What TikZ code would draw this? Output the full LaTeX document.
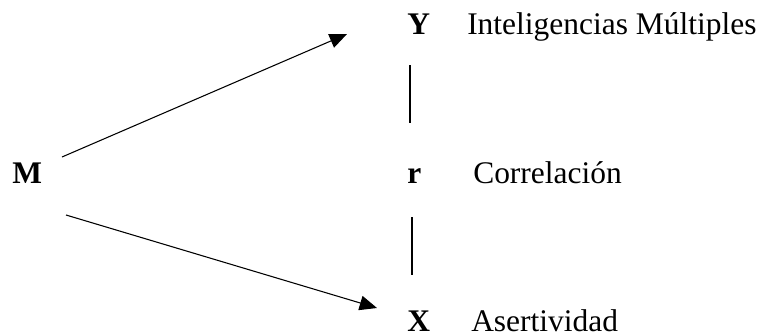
\documentclass[tikz,border=0pt]{standalone}
\usepackage{fontspec}
\setmainfont{Liberation Serif}
\usetikzlibrary{arrows.meta}
\begin{document}
\begin{tikzpicture}[x={(0.75pt,0)},y={(0,-0.75pt)},
  lbl/.style={inner sep=0pt,anchor=base west,font=\fontsize{23.6pt}{28pt}\selectfont},
  var/.style={lbl,font=\fontsize{23.6pt}{28pt}\selectfont\bfseries},
  arr/.style={line width=0.8pt,-{Triangle[length=13pt,width=11pt]}},
  bar/.style={line width=0.8pt}]
\useasboundingbox (0,0) rectangle (765,332);
\node[var] (M) at (12,183) {M};
\node[var] (Y) at (407,35) {Y};
\node[var] (r) at (407,183) {r};
\node[var] (X) at (407,331) {X};
\node[lbl] (tY) at (467,35) {Inteligencias Múltiples};
\node[lbl] (tr) at (473,183) {Correlación};
\node[lbl] (tX) at (471,331) {Asertividad};
\path (M.base west) ++(50,-26) coordinate (m1);
\path (M.base west) ++(54,32) coordinate (m2);
\path (Y.base west) ++(-60,-1) coordinate (y0);
\path (X.base west) ++(-30,-23) coordinate (x0);
\draw[arr] (m1) -- (y0);
\draw[arr] (m2) -- (x0);
\path (Y.base west) ++(3,30) coordinate (y1);
\path (r.base west) ++(3,-60) coordinate (r1);
\path (r.base west) ++(5,34) coordinate (r2);
\path (X.base west) ++(5,-56) coordinate (x1);
\draw[bar] (y1) -- (r1);
\draw[bar] (r2) -- (x1);
\end{tikzpicture}
\end{document}
